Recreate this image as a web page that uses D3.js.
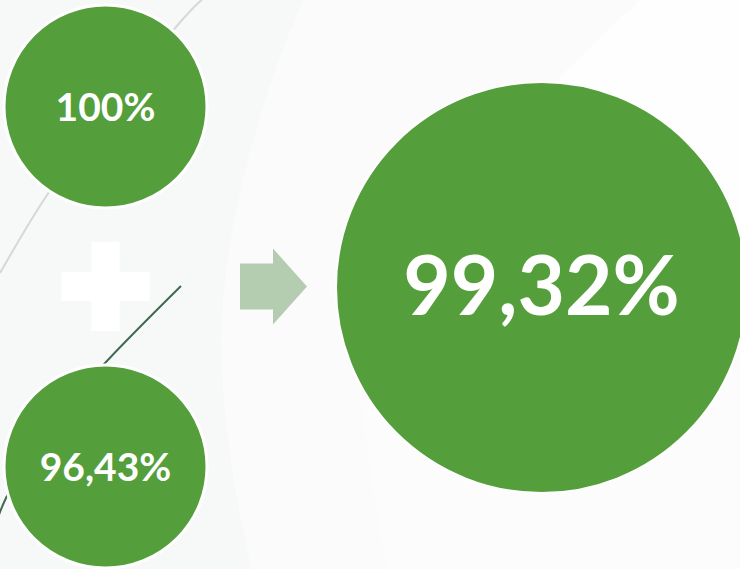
<!DOCTYPE html>
<html>
<head>
<meta charset="utf-8">
<script src="https://cdn.jsdelivr.net/npm/d3@7"></script>
<style>
  html, body { margin: 0; padding: 0; background: #f7f8f8; }
  svg { display: block; }
</style>
</head>
<body>
<svg id="chart" width="740" height="569"></svg>
<script>
// ---- data ----
const inputLabels = ["A", "B"];
const inputValues = [100, 96.43];
const resultLabels = ["Total"];
const resultValues = [99.32];

const W = 740, H = 569;
const svg = d3.select("#chart");
const locale = d3.formatLocale({ decimal: ",", thousands: ".", grouping: [3], currency: ["", "€"] });
const fmt = v => locale.format(".4~r")(v) + "%";

const green = "#549f3b";

// background subtle bands
svg.append("rect").attr("width", W).attr("height", H).attr("fill", "#f7f8f8");
svg.append("path")
  .attr("d", "M303,0 C255,110 215,260 222,370 C226,450 240,520 252,569 L740,569 L740,0 Z")
  .attr("fill", "#fbfbfb");
svg.append("path")
  .attr("d", "M640,0 C605,32 575,62 545,92 L600,95 L730,230 L740,230 L740,0 Z")
  .attr("fill", "#fefefe");
svg.append("path")
  .attr("d", "M357,370 C365,440 378,510 387,569 L740,569 L740,370 Z")
  .attr("fill", "#fcfcfc");

// decorative lines
const line = d3.line().curve(d3.curveNatural);
svg.append("path")
  .attr("d", line([[206, -4], [176, 27], [108, 112], [47, 195], [0, 273]]))
  .attr("fill", "none").attr("stroke", "#d2d9d6").attr("stroke-width", 2);
svg.append("path")
  .attr("d", line([[181, 286], [106, 362], [40, 440], [6, 498], [-2, 518]]))
  .attr("fill", "none").attr("stroke", "#3f6a50").attr("stroke-width", 2);

// scales
const yIn = d3.scalePoint().domain(inputLabels).range([106.5, 466.5]);
const rIn = 101.5;
const xIn = 105.5;
const rRes = 205.5;
const xRes = 541.5, yRes = 287.5;

// plus sign
const plusY = (yIn("A") + yIn("B")) / 2;
svg.append("rect").attr("x", xIn - 44).attr("y", plusY - 14.5).attr("width", 88).attr("height", 29).attr("fill", "#ffffff");
svg.append("rect").attr("x", xIn - 14).attr("y", plusY - 44.5).attr("width", 28).attr("height", 89).attr("fill", "#ffffff");

// arrow
svg.append("path")
  .attr("d", `M240,${plusY - 23} L273,${plusY - 23} L273,${plusY - 38} L307,${plusY} L273,${plusY + 38} L273,${plusY + 23} L240,${plusY + 23} Z`)
  .attr("fill", "#b4cdb1");

// input circles
const g = svg.selectAll("g.inp").data(inputLabels.map((k, i) => ({ k, v: inputValues[i] })))
  .join("g").attr("class", "inp");
g.append("circle")
  .attr("cx", xIn).attr("cy", d => yIn(d.k)).attr("r", rIn)
  .attr("fill", green).attr("stroke", "#ffffff").attr("stroke-width", 3);
g.append("text")
  .attr("x", xIn).attr("y", d => yIn(d.k) + 14.5)
  .attr("text-anchor", "middle")
  .attr("font-family", "Lato, 'Open Sans', sans-serif")
  .attr("font-weight", 700)
  .attr("font-size", 39)
  .attr("fill", "#ffffff")
  .text(d => fmt(d.v));

// result circle
const rg = svg.selectAll("g.res").data(resultLabels.map((k, i) => ({ k, v: resultValues[i] })))
  .join("g").attr("class", "res");
rg.append("circle")
  .attr("cx", xRes).attr("cy", yRes).attr("r", rRes)
  .attr("fill", green).attr("stroke", "#ffffff").attr("stroke-width", 2);
rg.append("text")
  .attr("x", xRes).attr("y", 315)
  .attr("text-anchor", "middle")
  .attr("font-family", "Lato, 'Open Sans', sans-serif")
  .attr("font-weight", 700)
  .attr("font-size", 82)
  .attr("fill", "#ffffff")
  .text(d => fmt(d.v));
</script>
</body>
</html>
